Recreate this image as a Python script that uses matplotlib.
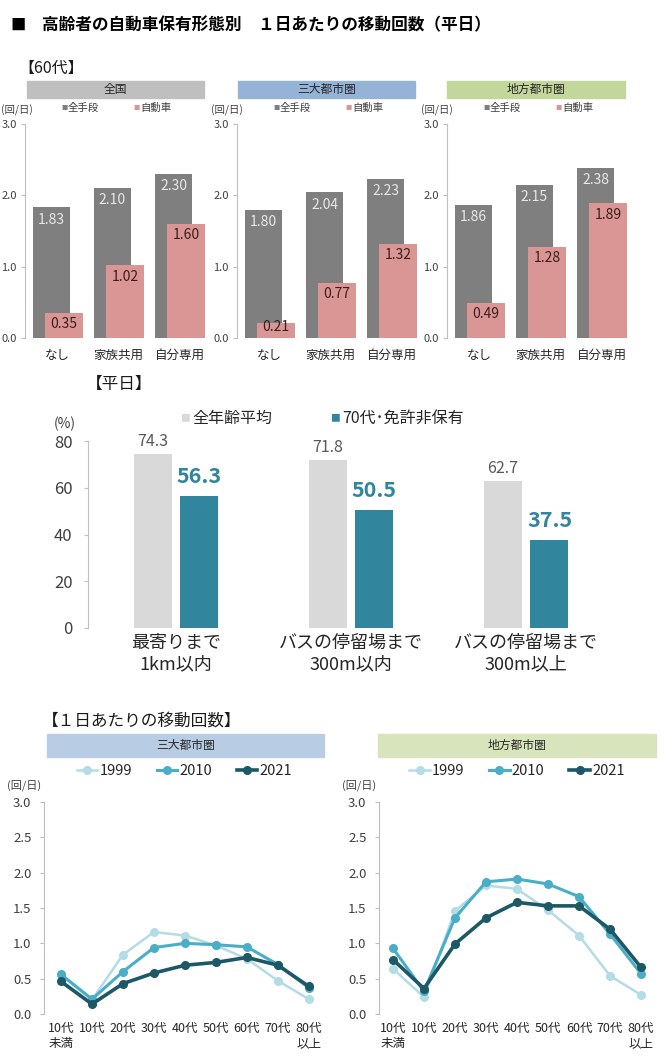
import matplotlib
matplotlib.use("Agg")
import matplotlib.pyplot as plt
from matplotlib.patches import Rectangle

plt.rcParams['font.family'] = ['Noto Sans CJK JP', 'DejaVu Sans']

# ---- data ----
own_types = ["なし", "家族共用", "自分専用"]
regions_top = ["全国", "三大都市圏", "地方都市圏"]
all_modes = [[1.83, 2.10, 2.30], [1.80, 2.04, 2.23], [1.86, 2.15, 2.38]]
car_only = [[0.35, 1.02, 1.60], [0.21, 0.77, 1.32], [0.49, 1.28, 1.89]]

dist_cats = ["最寄りまで\n1km以内", "バスの停留場まで\n300m以内", "バスの停留場まで\n300m以上"]
all_age = [74.3, 71.8, 62.7]
age70_nolic = [56.3, 50.5, 37.5]

age_groups = ["10代\n未満", "10代", "20代", "30代", "40代", "50代", "60代", "70代", "80代\n以上"]
years = ["1999", "2010", "2021"]
metro = {
    "1999": [0.55, 0.20, 0.84, 1.16, 1.11, 0.97, 0.78, 0.47, 0.21],
    "2010": [0.56, 0.21, 0.60, 0.94, 1.00, 0.98, 0.95, 0.70, 0.37],
    "2021": [0.46, 0.14, 0.43, 0.58, 0.69, 0.73, 0.80, 0.69, 0.39],
}
local = {
    "1999": [0.64, 0.24, 1.46, 1.82, 1.77, 1.47, 1.11, 0.54, 0.27],
    "2010": [0.93, 0.32, 1.36, 1.87, 1.91, 1.84, 1.66, 1.13, 0.57],
    "2021": [0.77, 0.36, 0.99, 1.36, 1.58, 1.53, 1.53, 1.20, 0.66],
}

W, H = 668, 1058
fig = plt.figure(figsize=(W / 100, H / 100), dpi=100)


def rect(l, t, r, b):
    return [l / W, 1 - b / H, (r - l) / W, (b - t) / H]


def ftext(x, y, s, **kw):
    fig.text(x / W, 1 - y / H, s, **kw)


def fbox(l, t, r, b, color, label, size=8.5):
    fig.patches.append(Rectangle((l / W, 1 - b / H), (r - l) / W, (b - t) / H,
                                 transform=fig.transFigure, color=color, zorder=0))
    ftext((l + r) / 2, (t + b) / 2, label, ha='center', va='center', fontsize=size, color='#262626')


spine_col = '#bfbfbf'
txt_col = '#404040'

# ---- title ----
ftext(10, 25, "■", fontsize=11, fontweight='bold', va='center', color='#000000')
ftext(42, 25, "高齢者の自動車保有形態別　１日あたりの移動回数（平日）",
      fontsize=12, fontweight='bold', va='center')
ftext(18, 68, "【60代】", fontsize=11.5, va='center', color='#1a1a1a')

# ---- top: bars by car ownership ----
axis_x = [25, 237, 447]
boxes = [(27, 204, '#bfbfbf'), (238, 415, '#95b3d7'), (447, 625, '#c3d69b')]
for k in range(3):
    x0 = axis_x[k]
    fbox(boxes[k][0], 81, boxes[k][1], 98, boxes[k][2], regions_top[k])
    ftext(max(x0 - 26, 1), 110, "(回/日)", fontsize=7.5, va='center', color=txt_col)
    ftext(x0 + 36, 108, "■", fontsize=4.5, va='center', color='#7f7f7f')
    ftext(x0 + 43, 108, "全手段", fontsize=7.5, va='center', color=txt_col)
    ftext(x0 + 108, 108, "■", fontsize=4.5, va='center', color='#da9694')
    ftext(x0 + 115, 108, "自動車", fontsize=7.5, va='center', color=txt_col)

    ax = fig.add_axes(rect(x0, 124, x0 + 185, 338))
    xs = range(3)
    ax.bar([i - 0.1025 for i in xs], all_modes[k], width=0.607, color='#7f7f7f', zorder=2)
    ax.bar([i + 0.1025 for i in xs], car_only[k], width=0.607, color='#da9694', zorder=3)
    for i in xs:
        ax.text(i - 0.1025, all_modes[k][i] - 0.17, "%.2f" % all_modes[k][i], ha='center', va='center',
                fontsize=10, color='#e8e8e8', zorder=4)
        ax.text(i + 0.1025, max(car_only[k][i] - 0.16, 0.15), "%.2f" % car_only[k][i], ha='center',
                va='center', fontsize=10, color='#3b1f1f', zorder=4)
    ax.set_xlim(-0.537, 2.496)
    ax.set_ylim(0, 3)
    ax.set_yticks([0, 1, 2, 3])
    ax.set_yticklabels(["0.0", "1.0", "2.0", "3.0"])
    ax.set_xticks(list(xs))
    ax.set_xticklabels(own_types)
    for s in ['top', 'right', 'bottom']:
        ax.spines[s].set_visible(False)
    ax.spines['left'].set_color(spine_col)
    ax.tick_params(axis='y', length=3, color=spine_col, labelsize=8, labelcolor=txt_col, pad=3)
    ax.tick_params(axis='x', length=0, labelsize=9, labelcolor='#262626', pad=8)
    ax.patch.set_alpha(0)

# ---- middle: distance to transit ----
ftext(86, 384, "【平日】", fontsize=12, va='center', color='#1a1a1a')
ftext(54, 424, "(%)", fontsize=10, va='center', color=txt_col)
ftext(180, 418, "■", fontsize=7, va='center', color='#d9d9d9')
ftext(192, 418, "全年齢平均", fontsize=11.5, va='center', color='#262626')
ftext(330, 418, "■", fontsize=7, va='center', color='#31859c')
ftext(342, 418, "70代･免許非保有", fontsize=11.5, va='center', color='#262626')

ax = fig.add_axes(rect(88, 441, 620, 628))
xs = range(3)
ax.bar([i - 0.134 for i in xs], all_age, width=0.217, color='#d9d9d9')
ax.bar([i + 0.134 for i in xs], age70_nolic, width=0.217, color='#31859c')
for i in xs:
    ax.annotate("%.1f" % all_age[i], (i - 0.134, all_age[i]), xytext=(0, 9), textcoords='offset points',
                ha='center', va='center', fontsize=11.5, color='#595959', annotation_clip=False)
    ax.annotate("%.1f" % age70_nolic[i], (i + 0.134, age70_nolic[i]), xytext=(0, 14),
                textcoords='offset points', ha='center', va='center', fontsize=15.5,
                fontweight='semibold', color='#31859c', annotation_clip=False)
ax.set_xlim(-0.503, 2.537)
ax.set_ylim(0, 80)
ax.set_yticks([0, 20, 40, 60, 80])
ax.set_xticks(list(xs))
ax.set_xticklabels(dist_cats, linespacing=1.25)
for s in ['top', 'right', 'bottom']:
    ax.spines[s].set_visible(False)
ax.spines['left'].set_color(spine_col)
ax.tick_params(axis='y', length=3, color=spine_col, labelsize=12, labelcolor=txt_col, pad=8)
ax.tick_params(axis='x', length=0, labelsize=13, labelcolor='#262626', pad=4)
ax.patch.set_alpha(0)

# ---- bottom: trips per day by age ----
ftext(42, 721, "【１日あたりの移動回数】", fontsize=12, va='center', color='#1a1a1a')
line_cols = {"1999": '#b4dce6', "2010": '#4aaec6', "2021": '#1d5866'}
line_w = {"1999": 1.8, "2010": 2.2, "2021": 2.6}
panels = [(44, 325, 47, 324, '#b8cce4', "三大都市圏", metro, -0.55, 8.52),
          (379, 655, 378, 656, '#d8e4bc', "地方都市圏", local, -0.45, 8.45)]
for l, r, bl, br, bcol, name, data, xl, xr in panels:
    fbox(bl, 734, br, 757, bcol, name)
    ftext(l - 37, 785, "(回/日)", fontsize=8, va='center', color=txt_col)
    ax = fig.add_axes(rect(l, 802, r, 1014))
    xs = list(range(len(age_groups)))
    for y in years:
        ax.plot(xs, data[y], color=line_cols[y], lw=line_w[y], marker='o', markersize=5.5,
                label=y, clip_on=False)
    ax.set_xlim(xl, xr)
    ax.set_ylim(0, 3)
    ax.set_yticks([0, 0.5, 1, 1.5, 2, 2.5, 3])
    ax.set_yticklabels(["0.0", "0.5", "1.0", "1.5", "2.0", "2.5", "3.0"])
    ax.set_xticks(xs)
    ax.set_xticklabels(age_groups, linespacing=1.2)
    for s in ['top', 'right', 'bottom']:
        ax.spines[s].set_visible(False)
    ax.spines['left'].set_color(spine_col)
    ax.tick_params(axis='y', length=3, color=spine_col, labelsize=9.5, labelcolor=txt_col, pad=6)
    ax.tick_params(axis='x', length=0, labelsize=9, labelcolor='#262626', pad=6)
    ax.patch.set_alpha(0)
    ax.legend(loc='center', bbox_to_anchor=(0.5, 1 + 31 / 212), ncol=3, frameon=False,
              fontsize=10.5, handlelength=1.4, handletextpad=0.15, columnspacing=1.7,
              labelcolor='#262626')

fig.savefig("out.png", dpi=100)
